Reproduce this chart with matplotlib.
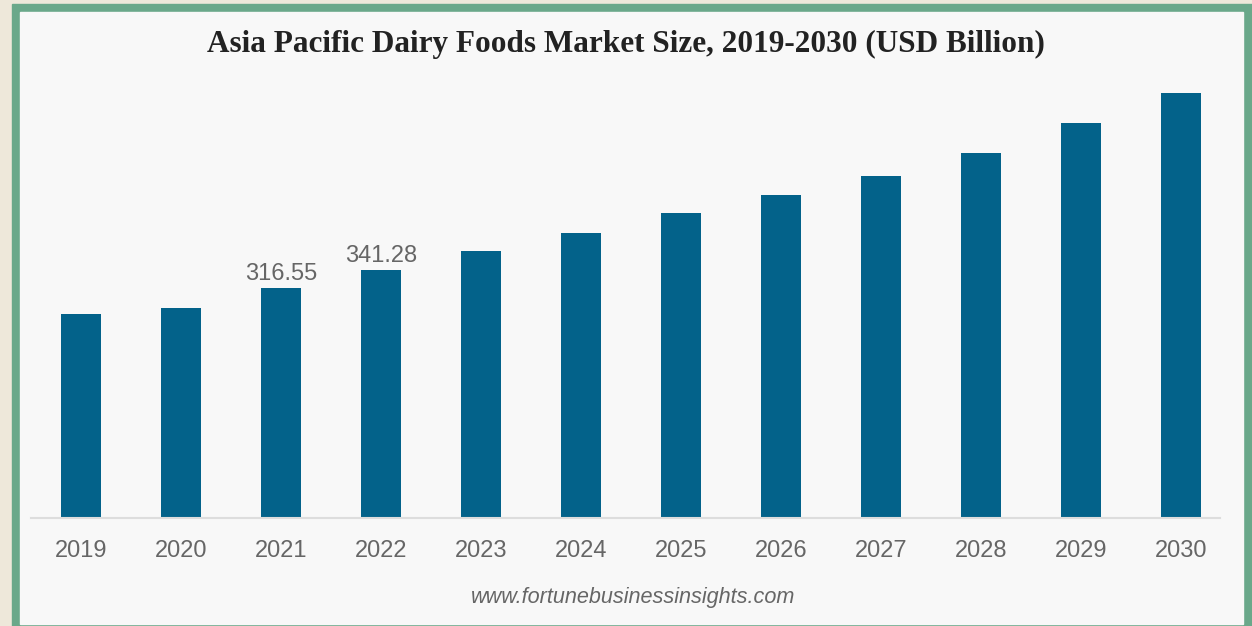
import numpy as np
import matplotlib.pyplot as plt
from matplotlib.patches import Rectangle

years = ["2019", "2020", "2021", "2022", "2023", "2024",
         "2025", "2026", "2027", "2028", "2029", "2030"]
market_size = [281.1, 289.4, 316.55, 341.28, 368.0, 392.7,
               420.3, 445.0, 471.3, 503.0, 544.3, 585.7]
shown_labels = {2: "316.55", 3: "341.28"}

W, H = 1252, 626
fig = plt.figure(figsize=(W / 100, H / 100), dpi=100)
fig.patch.set_facecolor("#eee8da")

# green frame + light panel
fig.add_artist(Rectangle((12 / W, 0), (W - 12) / W, (H - 4) / H,
                         transform=fig.transFigure, color="#6aa88a", zorder=0))
fig.add_artist(Rectangle((20 / W, 2 / H), (1243 - 20) / W, (624 - 12) / H,
                         transform=fig.transFigure, color="#f8f8f8", zorder=0))

left, right, top, bottom = 31, 1220, 80, 518
ax = fig.add_axes([left / W, 1 - bottom / H, (right - left) / W, (bottom - top) / H])
ax.set_facecolor("none")

x = np.arange(len(years))
ax.bar(x, market_size, width=0.4, color="#03628a", zorder=2)

for i, txt in shown_labels.items():
    ax.text(i, market_size[i] + 5, txt, ha="center", va="bottom",
            fontsize=17, color="#666666", family="Liberation Sans")

ax.set_xlim(-0.5, (right - 81) / 100)
ax.set_ylim(0, (bottom - top) * 1.378)
ax.set_xticks(x)
ax.set_xticklabels(years, fontsize=17, color="#666666", family="Liberation Sans")
ax.tick_params(axis="x", length=0, pad=16)
ax.set_yticks([])
for s in ["top", "right", "left"]:
    ax.spines[s].set_visible(False)
ax.spines["bottom"].set_color("#dddddd")
ax.spines["bottom"].set_linewidth(1.5)

fig.text(626 / W, 1 - 44 / H,
         "Asia Pacific Dairy Foods Market Size, 2019-2030 (USD Billion)",
         ha="center", va="center", fontsize=22.5, fontweight="bold",
         family="Liberation Serif", color="#222222")
fig.text(633 / W, 1 - 597 / H, "www.fortunebusinessinsights.com",
         ha="center", va="center", fontsize=15.6, style="italic",
         family="Liberation Sans", color="#666666")

fig.savefig("out.png", dpi=100, facecolor=fig.get_facecolor())
